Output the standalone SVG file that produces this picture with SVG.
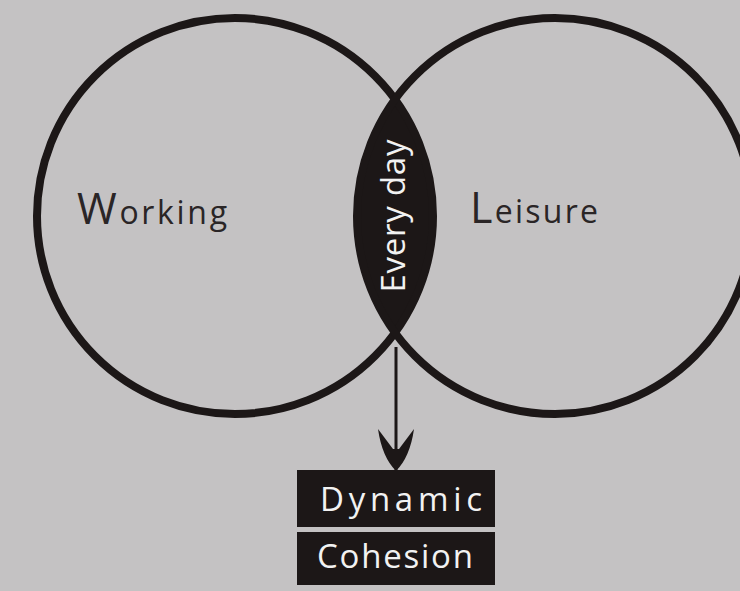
<svg xmlns="http://www.w3.org/2000/svg" width="740" height="591" viewBox="0 0 740 591">
  <style>
    .ring { fill: none; stroke: #1c1717; stroke-width: 8; }
    .ink { fill: #1c1717; }
    .label { font-family: "Open Sans", "DejaVu Sans", sans-serif; fill: #2a2526; }
    .inv { font-family: "Open Sans", "DejaVu Sans", sans-serif; fill: #f2f2f2; font-size: 33px; }
    .conn { stroke: #1c1717; stroke-width: 3; fill: none; }
  </style>
  <defs>
    <marker id="barb" markerUnits="userSpaceOnUse" markerWidth="60" markerHeight="60" refX="0" refY="0" orient="auto" overflow="visible">
      <path class="ink" d="M0,0 Q-14,14 -42,18 L-22,3 L-22,-3 L-42,-18 Q-14,-14 0,0 Z"/>
    </marker>
  </defs>
  <rect x="0" y="0" width="740" height="591" fill="#c4c2c3"/>

  <g id="everyday">
    <path class="ink" d="M395,99.4 A198,198 0 0,1 395,332.6 A198,198 0 0,1 395,99.4 Z"/>
    <text class="inv" font-size="31" text-anchor="middle" textLength="153" lengthAdjust="spacing" transform="translate(405,216) rotate(-90)">Every day</text>
  </g>

  <g id="working">
    <circle class="ring" cx="235" cy="216" r="198"/>
    <text class="label" x="77" y="224" textLength="150" lengthAdjust="spacing"><tspan font-size="43">W</tspan><tspan font-size="32">orking</tspan></text>
  </g>

  <g id="leisure">
    <circle class="ring" cx="555" cy="216" r="198"/>
    <text class="label" x="470" y="223" textLength="128" lengthAdjust="spacing"><tspan font-size="43">L</tspan><tspan font-size="32">eisure</tspan></text>
  </g>

  <g id="connectors">
    <line class="conn" x1="396" y1="347" x2="396" y2="471" marker-end="url(#barb)"/>
  </g>

  <g id="dynamic-cohesion">
    <rect class="ink" x="297" y="470" width="198" height="57"/>
    <text class="inv" x="401" y="511" text-anchor="middle" textLength="162" lengthAdjust="spacing">Dynamic</text>
    <rect class="ink" x="297" y="532" width="198" height="53"/>
    <text class="inv" x="395" y="568" text-anchor="middle" textLength="156" lengthAdjust="spacing">Cohesion</text>
  </g>
</svg>
